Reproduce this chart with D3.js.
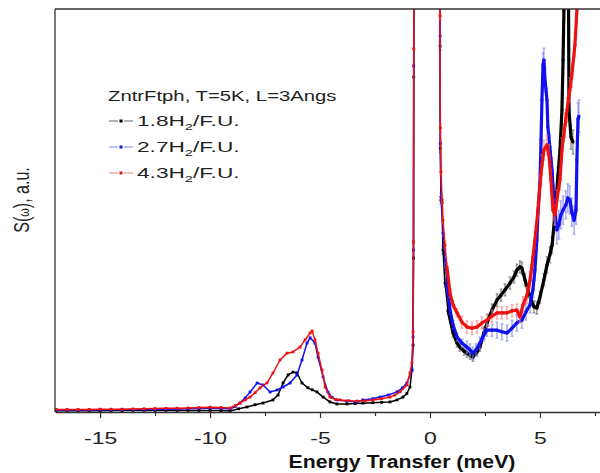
<!DOCTYPE html>
<html><head><meta charset="utf-8">
<script src="https://cdn.jsdelivr.net/npm/d3@7"></script>
<style>body{margin:0;background:#fff}svg{display:block}text{font-family:Arial,"Liberation Sans",sans-serif}</style>
</head><body><svg id="c" width="600" height="473"></svg>
<script>
// ---- data ----
const xMajorTicks = [-15, -10, -5, 0, 5];
const xMinorTicks = [-12.5, -7.5, -2.5, 2.5, 7.5];
const legendTitle = "ZntrFtph, T=5K, L=3Angs";
const loadings = ["1.8", "2.7", "4.3"];
const xTitle = "Energy Transfer (meV)";

// energy-loss side [E (meV), S, err]
const s18Neg = [[-17,0.3],[-16.5,0.3],[-16,0.3],[-15.5,0.3],[-15,0.3],[-14.5,0.35],[-14,0.35],[-13.5,0.4],[-13,0.4],[-12.5,0.4],[-12,0.4],[-11.5,0.4],[-11,0.4],[-10.5,0.4],[-10,0.4],[-9.5,0.35],
 [-9.09,0.25],[-8.7,0.8],[-8.32,1.24],[-7.95,1.8],[-7.59,2.23],[-7.14,3.0],[-6.91,4.2],[-6.68,7.2],[-6.45,9.2],[-6.23,9.9],[-6.05,9.7],[-5.82,7.2],[-5.55,6.0],[-5.35,5.5],[-5.14,5.0],[-4.86,3.7],[-4.55,2.5],[-4.23,2.0],[-3.77,2.0],[-3.4,2.1],[-3.05,2.2],[-2.6,2.3],[-2.2,2.4],[-1.82,2.5],[-1.5,3.0],[-1.23,3.7],[-1.05,4.6],[-0.91,6.2],[-0.82,10.4],[-0.77,16.6],[-0.75,38.2],[-0.74,83.1],[-0.72,140]];
const s27Neg = [[-17,0.5],[-16.5,0.5],[-16,0.5],[-15.5,0.5],[-15,0.5],[-14.5,0.55],[-14,0.6],[-13.5,0.6],[-13,0.6],[-12.5,0.65],[-12,0.7],[-11.5,0.75],[-11,0.8],[-10.5,0.9],[-10,1.0],[-9.5,0.9],
 [-9.09,0.74],[-8.85,1.4],[-8.64,2.23],[-8.4,3.5],[-8.18,4.96],[-7.86,7.2],[-7.59,6.7],[-7.27,4.96],[-6.95,5.46],[-6.68,6.2],[-6.36,7.2],[-6.05,9.18],[-5.82,12.9],[-5.59,17.1],[-5.45,18.4],[-5.23,17.1],[-5.09,13.6],[-4.86,8.7],[-4.64,4.96],[-4.45,3.6],[-4.23,3.0],[-3.8,2.7],[-3.32,2.5],[-3.05,3.0],[-2.6,3.3],[-2.27,3.7],[-1.9,4.2],[-1.5,5.0],[-1.25,6.0],[-1.05,7.2],[-0.82,10.4],[-0.77,18.6],[-0.75,40.2],[-0.74,85.9],[-0.72,140]];
const s43Neg = [[-17,0.6],[-16.5,0.6],[-16,0.6],[-15.5,0.65],[-15,0.7],[-14.5,0.7],[-14,0.7],[-13.5,0.75],[-13,0.8],[-12.5,0.85],[-12,0.9],[-11.5,0.95],[-11,1.0],[-10.5,1.1],[-10,1.2],[-9.5,1.1],
 [-9.09,1.0],[-8.85,1.6],[-8.64,2.23],[-8.4,3.0],[-8.18,3.72],[-7.95,4.8],[-7.73,5.96],[-7.41,7.2],[-7.14,9.68],[-6.82,12.9],[-6.5,14.6],[-6.23,14.9],[-5.91,16.1],[-5.68,17.9],[-5.45,19.6],[-5.36,20.1],[-5.23,17.9],[-5.09,14.6],[-4.91,10.4],[-4.77,6.2],[-4.55,3.72],[-4.3,3.1],[-4.09,3.0],[-3.7,2.8],[-3.32,2.7],[-2.95,2.8],[-2.59,3.0],[-2.2,3.3],[-1.82,3.7],[-1.6,4.2],[-1.36,5.0],[-1.05,6.7],[-0.91,9.7],[-0.82,12.2],[-0.77,19.9],[-0.75,42.2],[-0.74,90.1],[-0.72,140]];

// energy-gain side [E (meV), S, err]
const s18Pos = [[0.45,140],[0.46,90.8,1],[0.47,65.5,1],[0.5,52.5,1],[0.55,51.9,1],[0.59,40.2,1],[0.68,32.0,1],[0.82,25.3,1],[1.05,19.6,1],[1.23,17.1,1],[1.36,16.1,1],[1.55,15.1,1],[1.68,14.6,1],[1.82,14.1,1],[1.95,13.6,1],[2.14,14.9,1],[2.27,16.1,1],[2.45,19.6,1.5],[2.64,22.8,1.5],[2.82,25.3,1.5],[3.05,27.8,1.5],[3.23,29.0,1.5],[3.41,30.3,1.5],[3.64,32.0,1.5],[3.82,33.5,1.5],[3.95,35.2,1.5],[4.09,36.0,1.5],[4.18,35.7,1.5],[4.32,32.8,1.5],[4.45,30.3,1.5],[4.59,27.8,1.5],[4.73,26.1,1.5],[4.86,25.8,1.5],[5.0,28.5,1.5],[5.18,32.8,1.5],[5.32,36.5,2],[5.45,39.0,2],[5.55,41.4,2],[5.64,46.4,2],[5.73,52.6,2],[5.82,58.8,2],[5.91,65.0,2],[6.0,74.9,2],[6.05,87.3,2],[6.09,99.8,2],[6.14,140],[6.27,140],[6.32,75,3],[6.41,68.2,3],[6.5,67.0,3]];
const s27Pos = [[0.45,140],[0.46,93.3,1],[0.47,66.7,1],[0.5,53.3,1],[0.59,44.4,1],[0.68,37.7,1],[0.77,32.0,1],[0.91,25.3,1],[1.05,21.6,1],[1.23,18.6,1],[1.45,17.1,1],[1.68,16.1,1.5],[1.82,15.4,1.5],[1.95,14.6,1.5],[2.09,15.4,1.5],[2.27,17.1,1.5],[2.45,19.1,1.5],[2.59,20.3,1.5],[2.82,20.3,1.5],[3.05,20.3,2],[3.27,19.9,2],[3.5,19.6,2],[3.73,20.8,2],[3.95,22.1,2],[4.18,22.8,2],[4.36,24.8,2],[4.55,26.6,2],[4.68,30.3,2],[4.77,35.2,2.5],[4.86,42.7,2.5],[4.91,49.4,2.5],[5.0,56.8,2.5],[5.05,67.5,3],[5.09,77.4,3],[5.14,86.1,3],[5.18,87.3,3],[5.23,82.4,3],[5.32,77.4,3],[5.36,70.7,3],[5.45,65.8,3],[5.55,60.0,3],[5.59,56.3,3],[5.68,49.4,3],[5.77,45.2,3.5],[5.86,46.4,3.5],[5.95,48.9,3.5],[6.05,50.1,3.5],[6.18,51.4,3.5],[6.27,53.1,3.5],[6.36,52.6,3.5],[6.45,49.6,3.5],[6.55,47.6,3.5],[6.64,50.1,3.5],[6.68,62.5,4],[6.73,72.7,4],[6.77,73.4,4]];
const s43Pos = [[0.45,140],[0.46,98.3,1],[0.47,70.5,1],[0.5,59.6,1],[0.55,52.6,1],[0.59,47.6,1],[0.68,41.4,1],[0.77,36.0,1],[0.91,29.5,1],[1.05,26.6,1],[1.23,24.6,1],[1.45,22.3,1.5],[1.68,21.1,1.5],[1.91,20.8,1.5],[2.14,21.1,1.5],[2.36,22.1,1.5],[2.59,22.8,1.5],[2.82,23.8,1.5],[3.05,24.6,1.5],[3.27,24.6,1.5],[3.5,24.6,1.5],[3.73,25.1,1.5],[3.95,25.3,1.5],[4.09,23.6,1.5],[4.23,26.6,2],[4.41,29.0,2],[4.55,32.8,2],[4.64,36.5,2],[4.77,42.7,2],[4.91,50.1,2],[5.0,56.3,2.5],[5.09,61.3,2.5],[5.18,65.0,2.5],[5.32,66.3,2.5],[5.41,63.8,2.5],[5.5,57.6,2.5],[5.59,50.1,2.5],[5.68,48.9,2.5],[5.77,52.6,2.5],[5.91,57.6,2.5],[6.0,65.0,3],[6.14,71.2,3],[6.23,74.9,3],[6.36,79.9,3],[6.45,83.6,3],[6.59,91.1,3],[6.68,99.8,3],[6.73,140]];

const seriesColors = ["#000000", "#1010f0", "#ee1111"];
const lineColors = ["#666666", "#8080f0", "#ee8080"];

// ---- chart ----
const svg = d3.select("#c");
const W = 600, H = 473;
const m = {left: 55, top: 9, right: 0, bottom: 61};
const x = d3.scaleLinear().domain([-17.05, 7.73]).range([m.left, W - m.right]);
const y = d3.scaleLinear().domain([0, 100]).range([H - m.bottom, m.top]);
const SX = 1.35; // the reference text is horizontally widened

svg.append("defs").append("clipPath").attr("id", "clip")
  .append("rect").attr("x", m.left).attr("y", m.top)
  .attr("width", W - m.left - m.right).attr("height", H - m.bottom - m.top);

const plot = svg.append("g").attr("clip-path", "url(#clip)");
const line = d3.line().x(d => x(d[0])).y(d => y(d[1]));

const groups = [[s18Neg, s18Pos], [s27Neg, s27Pos], [s43Neg, s43Pos]];
groups.forEach((parts, i) => {
  const g = plot.append("g");
  parts.forEach((data, k) => {
    data.filter(d => d[2]).forEach(d => {
      const x0 = x(d[0]);
      g.append("line").attr("x1", x0).attr("x2", x0)
        .attr("y1", y(d[1] - d[2])).attr("y2", y(d[1] + d[2]))
        .attr("stroke", lineColors[i]).attr("stroke-width", 1);
      [d[1] - d[2], d[1] + d[2]].forEach(v => g.append("line")
        .attr("x1", x0 - 1.5).attr("x2", x0 + 1.5).attr("y1", y(v)).attr("y2", y(v))
        .attr("stroke", lineColors[i]).attr("stroke-width", 0.8));
    });
    g.append("path").datum(data).attr("d", line)
      .attr("fill", "none").attr("stroke", seriesColors[i])
      .attr("stroke-width", 1.5).attr("stroke-linejoin", "round");
    if (k === 1) {
      g.append("path").datum(data.filter(d => d[0] >= 0.7)).attr("d", line)
        .attr("fill", "none").attr("stroke", seriesColors[i])
        .attr("stroke-width", 3.2).attr("stroke-linejoin", "round");
    }
    g.selectAll(null).data(data).enter().append("rect")
      .attr("x", d => x(d[0]) - 1.4).attr("y", d => y(d[1]) - 1.4)
      .attr("width", 2.8).attr("height", 2.8).attr("fill", seriesColors[i]);
  });
});

// frame
const axisColor = "#333";
svg.append("line").attr("x1", m.left).attr("x2", m.left).attr("y1", m.top).attr("y2", H - m.bottom)
  .attr("stroke", axisColor).attr("stroke-width", 1.3);
svg.append("line").attr("x1", m.left).attr("x2", W).attr("y1", m.top).attr("y2", m.top)
  .attr("stroke", axisColor).attr("stroke-width", 1.3);

const xAxis = svg.append("g").attr("transform", `translate(0,${H - m.bottom})`)
  .call(d3.axisBottom(x).tickValues(xMajorTicks).tickSize(6).tickSizeOuter(0).tickPadding(14).tickFormat(d => String(d)));
xAxis.select(".domain").attr("stroke", axisColor).attr("stroke-width", 1.3);
xAxis.selectAll(".tick line").attr("stroke", axisColor).attr("stroke-width", 1.2);
xAxis.selectAll(".tick text").attr("font-size", 17).attr("fill", "#222")
  .attr("transform", `scale(${SX},1)`)
  .style("font-family", "Arial, 'Liberation Sans', sans-serif");
const xMinor = svg.append("g").attr("transform", `translate(0,${H - m.bottom})`)
  .call(d3.axisBottom(x).tickValues(xMinorTicks).tickSize(4).tickFormat(""));
xMinor.select(".domain").remove();
xMinor.selectAll(".tick line").attr("stroke", axisColor).attr("stroke-width", 1.2);

// axis titles
svg.append("text").attr("transform", `translate(402,468) scale(1.12,1)`).attr("text-anchor", "middle")
  .attr("font-size", 19).attr("font-weight", "bold").attr("fill", "#111").text(xTitle);
const yt = svg.append("text").attr("transform", `translate(29,200) scale(${SX},1) rotate(-90)`)
  .attr("text-anchor", "middle").attr("font-size", 16).attr("fill", "#222");
yt.append("tspan").text("S(");
yt.append("tspan").attr("font-size", 11).text("ω");
yt.append("tspan").text("), a.u.");

// legend
const lg = svg.append("g");
lg.append("text").attr("transform", `translate(108,101) scale(1.45,1)`).attr("font-size", 14).attr("fill", "#222").text(legendTitle);
loadings.forEach((lab, i) => {
  const cy = 121 + i * 26;
  lg.append("line").attr("x1", 109).attr("x2", 118).attr("y1", cy).attr("y2", cy)
    .attr("stroke", lineColors[i]).attr("stroke-width", 1);
  lg.append("line").attr("x1", 124).attr("x2", 133).attr("y1", cy).attr("y2", cy)
    .attr("stroke", lineColors[i]).attr("stroke-width", 1);
  lg.append("rect").attr("x", 119.5).attr("y", cy - 1.5).attr("width", 3).attr("height", 3)
    .attr("fill", seriesColors[i]);
  const t = lg.append("text").attr("transform", `translate(137,${cy + 5}) scale(1.62,1)`)
    .attr("font-size", 14).attr("fill", "#222");
  t.append("tspan").text(lab + "H");
  t.append("tspan").attr("font-size", 9).attr("dy", 4).text("2");
  t.append("tspan").attr("dy", -4).text("/F.U.");
});
</script></body></html>
